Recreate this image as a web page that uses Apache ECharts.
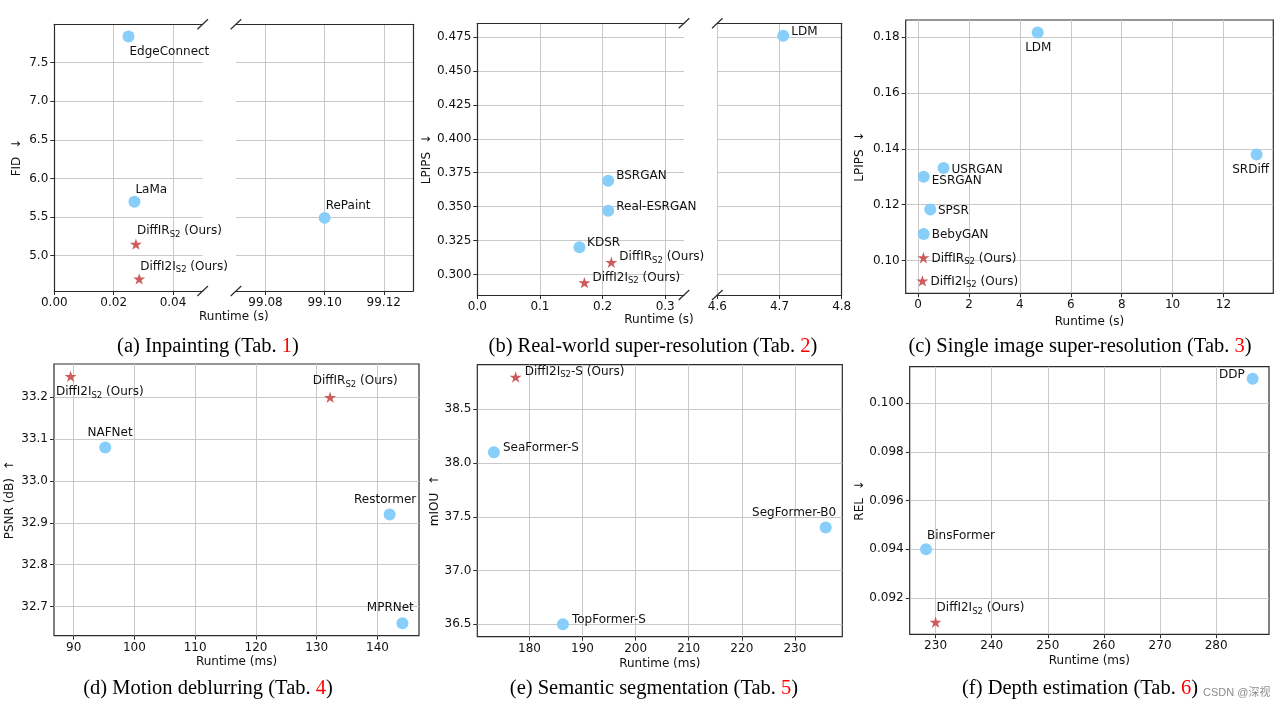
<!DOCTYPE html>
<html><head><meta charset="utf-8">
<script src="https://cdn.jsdelivr.net/npm/echarts@6/dist/echarts.min.js"></script>
<style>html,body{margin:0;padding:0;background:#fff}#c{width:1286px;height:708px}</style>
</head><body><div id="c"></div>
<script>
// ---------------- DATA ----------------
// (a) Inpainting
const inpBaseNames = ['EdgeConnect', 'LaMa', 'RePaint'];
const inpBaseRuntime = [0.025, 0.027, 99.10];
const inpBaseFID = [7.84, 5.70, 5.49];
const inpOursNames = ['DiffIR_S2 (Ours)', 'DiffI2I_S2 (Ours)'];
const inpOursRuntime = [0.0275, 0.0286];
const inpOursFID = [5.15, 4.70];
const inpXTicksLeft = [0.00, 0.02, 0.04];
const inpXTicksRight = [99.08, 99.10, 99.12];
const inpYTicks = [5.0, 5.5, 6.0, 6.5, 7.0, 7.5];
const inpXRangeLeft = [0, 0.05];
const inpXRangeRight = [99.07, 99.13];

// (b) Real-world super-resolution
const rwBaseNames = ['LDM', 'BSRGAN', 'Real-ESRGAN', 'KDSR'];
const rwBaseRuntime = [4.706, 0.209, 0.209, 0.163];
const rwBaseLPIPS = [0.476, 0.369, 0.347, 0.320];
const rwOursNames = ['DiffIR_S2 (Ours)', 'DiffI2I_S2 (Ours)'];
const rwOursRuntime = [0.214, 0.171];
const rwOursLPIPS = [0.309, 0.294];
const rwXTicksLeft = [0.0, 0.1, 0.2, 0.3];
const rwXTicksRight = [4.6, 4.7, 4.8];
const rwYTicks = [0.300, 0.325, 0.350, 0.375, 0.400, 0.425, 0.450, 0.475];
const rwXRangeLeft = [0, 0.33];
const rwXRangeRight = [4.6, 4.8];

// (c) Single image super-resolution
const srBaseNames = ['LDM', 'SRDiff', 'USRGAN', 'ESRGAN', 'SPSR', 'BebyGAN'];
const srBaseRuntime = [4.7, 13.3, 1.0, 0.22, 0.48, 0.22];
const srBaseLPIPS = [0.1817, 0.138, 0.1331, 0.130, 0.1183, 0.1095];
const srOursNames = ['DiffIR_S2 (Ours)', 'DiffI2I_S2 (Ours)'];
const srOursRuntime = [0.21, 0.17];
const srOursLPIPS = [0.101, 0.0927];
const srXTicks = [0, 2, 4, 6, 8, 10, 12];
const srYTicks = [0.10, 0.12, 0.14, 0.16, 0.18];

// (d) Motion deblurring
const dbBaseNames = ['NAFNet', 'Restormer', 'MPRNet'];
const dbBaseRuntime = [95.2, 142.0, 144.1];
const dbBasePSNR = [33.08, 32.92, 32.66];
const dbOursNames = ['DiffI2I_S2 (Ours)', 'DiffIR_S2 (Ours)'];
const dbOursRuntime = [89.5, 132.2];
const dbOursPSNR = [33.25, 33.20];
const dbXTicks = [90, 100, 110, 120, 130, 140];
const dbYTicks = [32.7, 32.8, 32.9, 33.0, 33.1, 33.2];

// (e) Semantic segmentation
const ssBaseNames = ['SeaFormer-S', 'SegFormer-B0', 'TopFormer-S'];
const ssBaseRuntime = [173.3, 235.8, 186.3];
const ssBaseMIOU = [38.1, 37.4, 36.5];
const ssOursNames = ['DiffI2I_S2-S (Ours)'];
const ssOursRuntime = [177.4];
const ssOursMIOU = [38.8];
const ssXTicks = [180, 190, 200, 210, 220, 230];
const ssYTicks = [36.5, 37.0, 37.5, 38.0, 38.5];

// (f) Depth estimation
const deBaseNames = ['DDP', 'BinsFormer'];
const deBaseRuntime = [286.5, 228.3];
const deBaseREL = [0.101, 0.094];
const deOursNames = ['DiffI2I_S2 (Ours)'];
const deOursRuntime = [230.0];
const deOursREL = [0.091];
const deXTicks = [230, 240, 250, 260, 270, 280];
const deYTicks = [0.092, 0.094, 0.096, 0.098, 0.100];

// ---------------- LABEL PLACEMENT (px offset from marker centre, alignment) ----------------
const inpBasePlace = [[1, 15, 'left'], [1, -12, 'left'], [1, -12, 'left']];
const inpOursPlace = [[1, -13, 'left'], [1, -12.5, 'left']];
const rwBasePlace = [[8, -4, 'left'], [8, -4.5, 'left'], [8, -4, 'left'], [7.7, -4, 'left']];
const rwOursPlace = [[8, -5, 'left'], [8, -5, 'left']];
const srBasePlace = [[0.6, 15.4, 'center'], [-6, 15.3, 'center'], [8, 1.3, 'left'], [8, 4.3, 'left'], [7.7, 1, 'left'], [8, 1, 'left']];
const srOursPlace = [[8, 0.7, 'left'], [8, 0.7, 'left']];
const dbBasePlace = [[-17.7, -15, 'left'], [-35.6, -15, 'left'], [-35.6, -15, 'left']];
const dbOursPlace = [[-14.7, 16, 'left'], [-17.4, -16, 'left']];
const ssBasePlace = [[9, -4.3, 'left'], [-73.7, -15, 'left'], [9, -4, 'left']];
const ssOursPlace = [[9, -5.3, 'left']];
const deBasePlace = [[-8, -3.7, 'right'], [1, -13.7, 'left']];
const deOursPlace = [[1, -14.3, 'left']];

// ---------------- LAYOUT ----------------
const L = {
  aL: {left: 54.3, top: 24.3, width: 148.4, height: 266.7},
  aR: {left: 236, top: 24.3, width: 177.3, height: 266.7},
  bL: {left: 477.3, top: 23.3, width: 206.7, height: 271.7},
  bR: {left: 717.3, top: 23.3, width: 124.4, height: 271.7},
  c: {left: 905.7, top: 20, width: 367.6, height: 273.3},
  d: {left: 54, top: 364, width: 365, height: 271.7},
  e: {left: 477.3, top: 364.7, width: 365, height: 272},
  f: {left: 909.7, top: 366.7, width: 359.3, height: 267.6}
};

const FONT = 'DejaVu Sans';
const AX = '#2b2b2b';
const GRIDC = '#c9c9c9';
const TXT = '#111';
const BLUE = '#87CEFA';
const RED = '#CD5C5C';

function pad(arr) { const lo = Math.min(...arr), hi = Math.max(...arr), d = (hi - lo) * 0.05; return [lo - d, hi + d]; }
function starPath() {
  let p = '';
  for (let i = 0; i < 10; i++) {
    const r = i % 2 === 0 ? 1 : 0.382;
    const a = -Math.PI / 2 + i * Math.PI / 5;
    p += (i ? 'L' : 'M') + (r * Math.cos(a)).toFixed(4) + ' ' + (r * Math.sin(a)).toFixed(4) + ' ';
  }
  return 'path://' + p + 'Z';
}
const STAR = starPath();

const labelBase = {
  show: true, position: 'inside', color: TXT, fontSize: 12, fontFamily: FONT, lineHeight: 16,
  verticalAlign: 'middle', textBorderWidth: 0, textBorderColor: 'transparent',
  formatter: p => p.name.replace('_S2', '{sub|S2}'),
  rich: {sub: {fontSize: 8.5, fontFamily: FONT, color: TXT, verticalAlign: 'bottom', lineHeight: 10, textBorderWidth: 0}}
};
const nameStyle = {fontSize: 12, fontFamily: FONT, color: TXT};

const grids = [], xAxes = [], yAxes = [], series = [];
function addGrid(g, extra) { grids.push(Object.assign({outerBoundsMode: 'none', containLabel: false}, g, extra || {})); return grids.length - 1; }

function valAxis(gi, range, ticks, dec, opts) {
  const a = {
    type: 'value', gridIndex: gi, min: range[0], max: range[1],
    axisLine: {show: false, onZero: false, lineStyle: {color: AX, width: 1.2}},
    axisTick: {show: true, inside: false, length: 4, customValues: ticks, lineStyle: {color: AX, width: 1}},
    axisLabel: {show: true, customValues: ticks, margin: 6, color: TXT, fontSize: 12, fontFamily: FONT, formatter: v => Number(v).toFixed(dec)},
    splitLine: {show: true, lineStyle: {color: GRIDC, width: 1}},
    nameMoveOverlap: false
  };
  return Object.assign(a, opts || {});
}
function spineAxis(gi, range, position) {
  return {
    type: 'value', gridIndex: gi, min: range[0], max: range[1], position,
    axisLine: {show: true, onZero: false, lineStyle: {color: AX, width: 1.2}},
    axisTick: {show: false}, axisLabel: {show: false}, splitLine: {show: false}
  };
}
function mkData(names, xs, ys, place, keep) {
  const out = [];
  names.forEach((n, i) => {
    if (keep && !keep(xs[i])) return;
    out.push({name: n, value: [xs[i], ys[i]], label: {offset: [place[i][0], place[i][1]], align: place[i][2]}});
  });
  return out;
}
function scat(xi, yi, data, ours) {
  return {
    type: 'scatter', xAxisIndex: xi, yAxisIndex: yi, data,
    symbol: ours ? STAR : 'circle', symbolSize: ours ? 12 : 12, symbolKeepAspect: true,
    itemStyle: {color: ours ? RED : BLUE, opacity: 1},
    label: labelBase, emphasis: {disabled: true}, silent: true, z: 3
  };
}

function fullPanel(g, xr, yr, xt, yt, xd, yd, xName, xGap, yName, yGap, base, ours) {
  const gi = addGrid(g, {show: true, borderColor: AX, borderWidth: 1.2, backgroundColor: 'transparent'});
  xAxes.push(valAxis(gi, xr, xt, xd, {position: 'bottom', name: xName, nameLocation: 'middle', nameGap: xGap, nameTextStyle: nameStyle}));
  const xi = xAxes.length - 1;
  yAxes.push(valAxis(gi, yr, yt, yd, {position: 'left', name: yName, nameLocation: 'middle', nameGap: yGap, nameTextStyle: nameStyle}));
  const yi = yAxes.length - 1;
  series.push(scat(xi, yi, mkData(...base), false));
  series.push(scat(xi, yi, mkData(...ours), true));
}

function brokenPanel(gL, gR, xrL, xrR, yr, xtL, xtR, yt, xdL, xdR, yd, yName, yGap, base, ours) {
  const gl = addGrid(gL), gr = addGrid(gR);
  const line = {show: true, onZero: false, lineStyle: {color: AX, width: 1.2}};
  xAxes.push(valAxis(gl, xrL, xtL, xdL, {position: 'bottom', axisLine: line}));
  const xiL = xAxes.length - 1;
  xAxes.push(spineAxis(gl, xrL, 'top'));
  xAxes.push(valAxis(gr, xrR, xtR, xdR, {position: 'bottom', axisLine: line}));
  const xiR = xAxes.length - 1;
  xAxes.push(spineAxis(gr, xrR, 'top'));
  yAxes.push(valAxis(gl, yr, yt, yd, {position: 'left', axisLine: line, name: yName, nameLocation: 'middle', nameGap: yGap, nameTextStyle: nameStyle}));
  const yiL = yAxes.length - 1;
  yAxes.push(valAxis(gr, yr, yt, yd, {position: 'right', axisLine: line, axisTick: {show: false, customValues: yt}, axisLabel: {show: false, customValues: yt}}));
  const yiR = yAxes.length - 1;
  const inL = x => x >= xrL[0] && x <= xrL[1];
  const inR = x => x >= xrR[0] && x <= xrR[1];
  series.push(scat(xiL, yiL, mkData(...base, inL), false));
  series.push(scat(xiL, yiL, mkData(...ours, inL), true));
  series.push(scat(xiR, yiR, mkData(...base, inR), false));
  series.push(scat(xiR, yiR, mkData(...ours, inR), true));
}

// (a)
brokenPanel(L.aL, L.aR, inpXRangeLeft, inpXRangeRight, pad(inpBaseFID.concat(inpOursFID)),
  inpXTicksLeft, inpXTicksRight, inpYTicks, 2, 2, 1, 'FID  ↓', 31.3,
  [inpBaseNames, inpBaseRuntime, inpBaseFID, inpBasePlace], [inpOursNames, inpOursRuntime, inpOursFID, inpOursPlace]);
// (b)
brokenPanel(L.bL, L.bR, rwXRangeLeft, rwXRangeRight, pad(rwBaseLPIPS.concat(rwOursLPIPS)),
  rwXTicksLeft, rwXTicksRight, rwYTicks, 1, 1, 3, 'LPIPS  ↓', 44.3,
  [rwBaseNames, rwBaseRuntime, rwBaseLPIPS, rwBasePlace], [rwOursNames, rwOursRuntime, rwOursLPIPS, rwOursPlace]);
// (c)
fullPanel(L.c, pad(srBaseRuntime.concat(srOursRuntime)), pad(srBaseLPIPS.concat(srOursLPIPS)), srXTicks, srYTicks, 0, 2,
  'Runtime (s)', 22.7, 'LPIPS  ↓', 39.7,
  [srBaseNames, srBaseRuntime, srBaseLPIPS, srBasePlace], [srOursNames, srOursRuntime, srOursLPIPS, srOursPlace]);
// (d)
fullPanel(L.d, pad(dbBaseRuntime.concat(dbOursRuntime)), pad(dbBasePSNR.concat(dbOursPSNR)), dbXTicks, dbYTicks, 0, 1,
  'Runtime (ms)', 20.6, 'PSNR (dB)  ↑', 38,
  [dbBaseNames, dbBaseRuntime, dbBasePSNR, dbBasePlace], [dbOursNames, dbOursRuntime, dbOursPSNR, dbOursPlace]);
// (e)
fullPanel(L.e, pad(ssBaseRuntime.concat(ssOursRuntime)), pad(ssBaseMIOU.concat(ssOursMIOU)), ssXTicks, ssYTicks, 0, 1,
  'Runtime (ms)', 21.3, 'mIOU  ↑', 36.3,
  [ssBaseNames, ssBaseRuntime, ssBaseMIOU, ssBasePlace], [ssOursNames, ssOursRuntime, ssOursMIOU, ssOursPlace]);
// (f)
fullPanel(L.f, pad(deBaseRuntime.concat(deOursRuntime)), pad(deBaseREL.concat(deOursREL)), deXTicks, deYTicks, 0, 3,
  'Runtime (ms)', 20.7, 'REL  ↓', 43.7,
  [deBaseNames, deBaseRuntime, deBaseREL, deBasePlace], [deOursNames, deOursRuntime, deOursREL, deOursPlace]);

// ---------------- GRAPHICS (break marks, shared x names, captions) ----------------
const graphic = [];
function breakMarks(gl, gr) {
  const xs = [gl.left + gl.width, gr.left];
  const ys = [gl.top, gl.top + gl.height];
  xs.forEach(x => ys.forEach(y => graphic.push({
    type: 'line', silent: true, z: 10,
    shape: {x1: x - 5.3, y1: y + 5, x2: x + 5.3, y2: y - 5},
    style: {stroke: AX, lineWidth: 1.2}
  })));
}
breakMarks(L.aL, L.aR);
breakMarks(L.bL, L.bR);
function txt(text, x, y, size, fam, fill, align, rich) {
  graphic.push({
    type: 'text', x, y, silent: true, z: 10,
    style: {text, fontSize: size, fontFamily: fam, fill, align: align, textAlign: align,
      verticalAlign: 'middle', textVerticalAlign: 'middle', rich: rich || undefined}
  });
}
txt('Runtime (s)', 233.8, 316.7, 12, FONT, TXT, 'center');
txt('Runtime (s)', 659, 320.3, 12, FONT, TXT, 'center');
const CAPF = 'Liberation Serif';
const red = {r: {fill: '#ff0000', color: '#ff0000', fontSize: 20.5, fontFamily: CAPF}};
txt('(a) Inpainting (Tab. {r|1})', 208, 346.5, 20.5, CAPF, '#000', 'center', red);
txt('(b) Real-world super-resolution (Tab. {r|2})', 653, 346.5, 20.5, CAPF, '#000', 'center', red);
txt('(c) Single image super-resolution (Tab. {r|3})', 1080, 346.5, 20.5, CAPF, '#000', 'center', red);
txt('(d) Motion deblurring (Tab. {r|4})', 208, 689, 20.5, CAPF, '#000', 'center', red);
txt('(e) Semantic segmentation (Tab. {r|5})', 654, 689, 20.5, CAPF, '#000', 'center', red);
txt('(f) Depth estimation (Tab. {r|6})', 1080, 689, 20.5, CAPF, '#000', 'center', red);
txt('CSDN @深视', 1203, 692.7, 11, '"Liberation Sans", "Noto Sans CJK SC", sans-serif', '#8c8c8c', 'left');

const chart = echarts.init(document.getElementById('c'), null, {renderer: 'canvas'});
chart.setOption({
  animation: false,
  backgroundColor: '#fff',
  textStyle: {fontFamily: FONT},
  grid: grids, xAxis: xAxes, yAxis: yAxes, series, graphic
});
</script>
</body></html>
